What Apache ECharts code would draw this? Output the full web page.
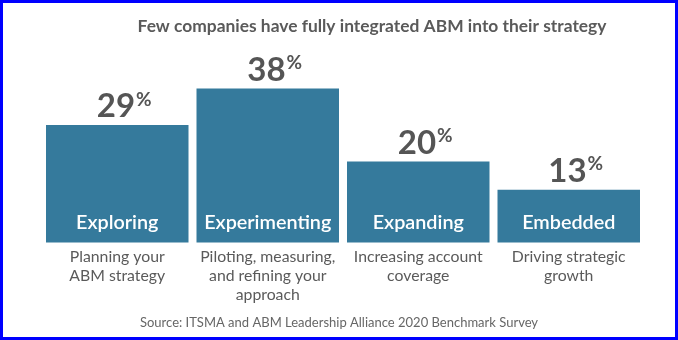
<!DOCTYPE html>
<html><head><meta charset="utf-8">
<script src="https://cdn.jsdelivr.net/npm/echarts@6/dist/echarts.min.js"></script>
<style>html,body{margin:0;padding:0;background:#fff}#c{width:678px;height:340px}</style>
</head><body><div id="c"></div>
<script>
const categories = ['Exploring', 'Experimenting', 'Expanding', 'Embedded'];
const values = [29, 38, 20, 13];
const descriptions = [
  'Planning your\nABM strategy',
  'Piloting, measuring,\nand refining your\napproach',
  'Increasing account\ncoverage',
  'Driving strategic\ngrowth'
];
const titleText = 'Few companies have fully integrated ABM into their strategy';
const sourceText = 'Source: ITSMA and ABM Leadership Alliance 2020 Benchmark Survey';

const FONT = 'Lato, "Noto Sans", sans-serif';
const chart = echarts.init(document.getElementById('c'), null, { renderer: 'canvas' });
chart.setOption({
  animation: false,
  backgroundColor: '#ffffff',
  textStyle: { fontFamily: FONT },
  grid: { left: 42, right: 34, top: 40, bottom: 97.5 },
  xAxis: {
    type: 'category',
    data: categories,
    axisLine: { show: false },
    axisTick: { show: false },
    axisLabel: {
      interval: 0,
      margin: 5,
      color: '#5a5a5a',
      fontSize: 15.8,
      lineHeight: 19,
      fontFamily: FONT,
      formatter: function (v, i) { return descriptions[i]; }
    }
  },
  yAxis: { type: 'value', min: 0, max: 50, show: false, splitLine: { show: false } },
  series: [
    {
      type: 'bar',
      data: values,
      barWidth: 142.5,
      itemStyle: { color: '#357a9c' },
      label: {
        show: true,
        position: 'insideBottom',
        distance: 10,
        formatter: '{b}',
        color: '#ffffff',
        fontSize: 19.8,
        fontWeight: 600,
        fontFamily: FONT
      }
    },
    {
      type: 'bar',
      data: values,
      barWidth: 142.5,
      barGap: '-100%',
      silent: true,
      itemStyle: { color: 'rgba(0,0,0,0)' },
      label: {
        show: true,
        position: 'top',
        distance: 2,
        offset: [7, 0],
        formatter: function (p) { return '{v|' + p.value + '}{p|%}'; },
        rich: {
          v: { fontSize: 33, fontWeight: 'bold', color: '#555555', fontFamily: FONT },
          p: { fontSize: 19, fontWeight: 'bold', color: '#555555', fontFamily: FONT, verticalAlign: 'top', padding: [0, 0, 12, 1] }
        }
      }
    }
  ],
  graphic: [
    {
      type: 'text', x: 372, y: 26,
      style: { text: titleText, align: 'center', verticalAlign: 'middle', fill: '#5a5a5a', fontFamily: FONT, fontSize: 17.4, fontWeight: 'bold' }
    },
    {
      type: 'text', x: 339, y: 322.5,
      style: { text: sourceText, align: 'center', verticalAlign: 'middle', fill: '#666666', fontFamily: FONT, fontSize: 13 }
    },
    {
      type: 'rect', shape: { x: 1.5, y: 1.5, width: 675, height: 337 },
      style: { fill: 'none', stroke: '#0000ff', lineWidth: 3 }
    }
  ]
});
</script>
</body></html>
